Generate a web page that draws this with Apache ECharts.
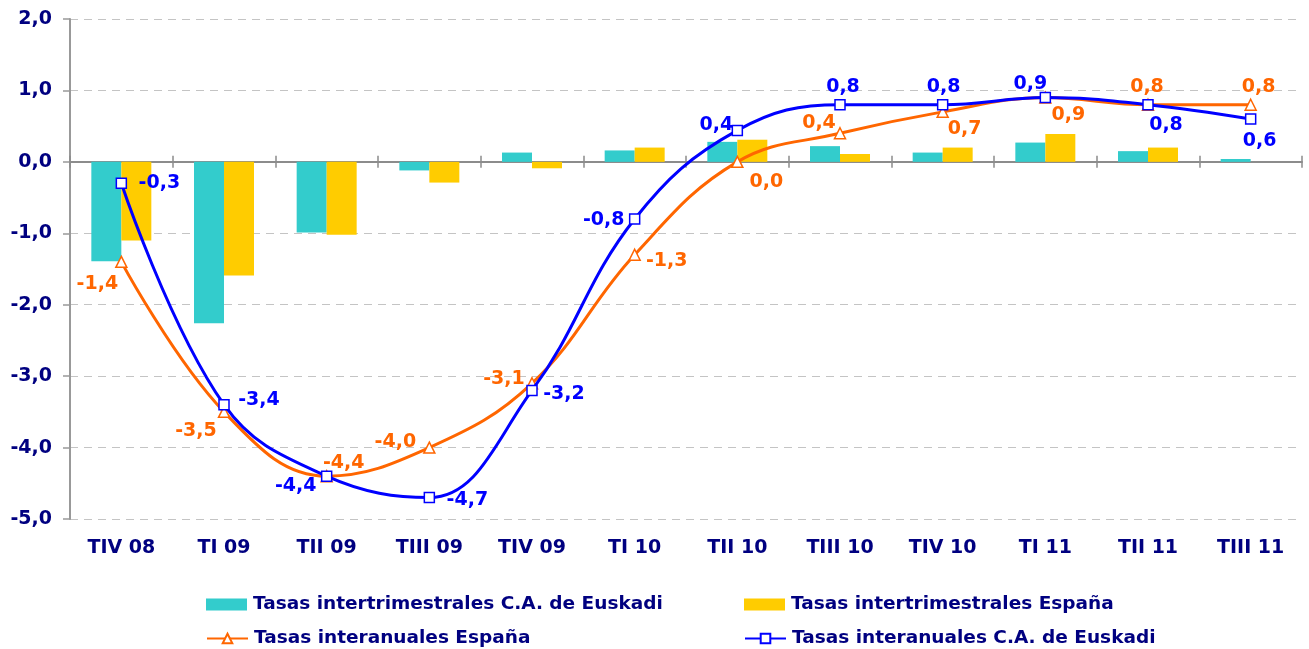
<!DOCTYPE html>
<html>
<head>
<meta charset="utf-8">
<script src="https://cdn.jsdelivr.net/npm/echarts@6/dist/echarts.min.js"></script>
<style>
  html, body { margin: 0; padding: 0; background: #fff; }
  #chart { width: 1309px; height: 649px; }
</style>
</head>
<body>
<div id="chart"></div>
<script>
// trimestres
const trimestres = ['TIV 08', 'TI 09', 'TII 09', 'TIII 09', 'TIV 09', 'TI 10', 'TII 10', 'TIII 10', 'TIV 10', 'TI 11', 'TII 11', 'TIII 11'];

// tasas intertrimestrales (barras)
const interTrimEuskadi = [-1.39, -2.26, -0.99, -0.12, 0.13, 0.16, 0.28, 0.22, 0.13, 0.27, 0.15, 0.04];
const interTrimEspana = [-1.1, -1.59, -1.02, -0.29, -0.09, 0.2, 0.31, 0.11, 0.2, 0.39, 0.2, null];

// tasas interanuales (lineas)
const interAnualEspana = [-1.4, -3.5, -4.4, -4.0, -3.1, -1.3, 0.0, 0.4, 0.7, 0.9, 0.8, 0.8];
const interAnualEuskadi = [-0.3, -3.4, -4.4, -4.7, -3.2, -0.8, 0.44, 0.8, 0.8, 0.9, 0.8, 0.6];

// eje Y
const yMin = -5, yMax = 2, yPaso = 1;

// desplazamiento de las etiquetas respecto al punto (solo estilo)
const offEspana = [[-24, 22], [-28, 19], [17, -13], [-34, -6], [-28, -4], [32, 6], [29, 20], [-21, -10], [22, 17], [23, 17], [-1, -18], [8, -18]];
const offEuskadi = [[38, 0], [35, -5], [-31, 10], [38, 2], [32, 4], [-31, 1], [-21, -5], [3, -18], [1, -18], [-15, -14], [18, 20], [9, 22]];

const NAVY = '#000080';
const FONT = 'DejaVu Sans';
const coma = v => v.toFixed(1).replace('.', ',');

const nombres = [
  'Tasas intertrimestrales C.A. de Euskadi',
  'Tasas intertrimestrales España',
  'Tasas interanuales España',
  'Tasas interanuales C.A. de Euskadi'
];

function puntos(valores, offsets) {
  return valores.map((v, i) => ({ value: v, label: { offset: offsets[i] } }));
}

function leyenda(nombre, left, top, icon, h) {
  const l = {
    data: [nombre],
    left: left,
    top: top,
    itemWidth: 41,
    itemHeight: h,
    itemGap: 0,
    padding: 0,
    selectedMode: false,
    textStyle: { color: NAVY, fontFamily: FONT, fontWeight: 'bold', fontSize: 18.5, padding: [0, 0, 0, 1] }
  };
  if (icon) l.icon = icon;
  return l;
}

const chart = echarts.init(document.getElementById('chart'));

const ejeCat = {
  type: 'category',
  data: trimestres,
  axisLabel: { show: false },
  splitLine: { show: false }
};

const option = {
  animation: false,
  textStyle: { fontFamily: FONT },
  grid: { left: 70, right: 7, top: 19, bottom: 130, containLabel: false },
  legend: [
    leyenda(nombres[0], 206, 595, 'rect', 12),
    leyenda(nombres[1], 744, 595, 'rect', 12),
    leyenda(nombres[2], 206, 629, null, 12),
    leyenda(nombres[3], 744, 629, null, 12)
  ],
  xAxis: [
    {
      type: 'category',
      data: trimestres,
      position: 'bottom',
      axisLine: { show: false, onZero: false },
      axisTick: { show: false },
      axisLabel: { color: NAVY, fontFamily: FONT, fontWeight: 'bold', fontSize: 19, margin: 20 }
    },
    Object.assign({}, ejeCat, {
      position: 'top',
      axisLine: { show: true, onZero: true, onZeroAxisIndex: 0, lineStyle: { color: '#8c8c8c', width: 2 } },
      axisTick: { show: true, length: 6, lineStyle: { color: '#8c8c8c', width: 1.5 } }
    }),
    Object.assign({}, ejeCat, {
      position: 'bottom',
      axisLine: { show: false, onZero: true, onZeroAxisIndex: 0 },
      axisTick: { show: true, length: 6, lineStyle: { color: '#8c8c8c', width: 1.5 } }
    })
  ],
  yAxis: {
    type: 'value',
    min: yMin,
    max: yMax,
    interval: yPaso,
    axisLine: { show: true, lineStyle: { color: '#999', width: 2 } },
    axisTick: { show: true, length: 7, lineStyle: { color: '#999', width: 1.5 } },
    axisLabel: { color: NAVY, fontFamily: FONT, fontWeight: 'bold', fontSize: 19, margin: 18, formatter: coma },
    splitLine: { show: true, lineStyle: { color: '#c4c4c4', type: [8, 6], width: 1 } }
  },
  series: [
    {
      name: nombres[0],
      type: 'bar',
      data: interTrimEuskadi,
      barWidth: 30,
      barGap: '0%',
      itemStyle: { color: '#33CCCC' }
    },
    {
      name: nombres[1],
      type: 'bar',
      data: interTrimEspana,
      barWidth: 30,
      barGap: '0%',
      itemStyle: { color: '#FFCC00' }
    },
    {
      name: nombres[2],
      type: 'line',
      data: puntos(interAnualEspana, offEspana),
      smooth: 0.4,
      symbol: 'triangle',
      symbolSize: 11,
      lineStyle: { color: '#FF6600', width: 3 },
      itemStyle: { color: '#fff', borderColor: '#FF6600', borderWidth: 1.5 },
      label: {
        show: true, position: 'inside', color: '#FF6600',
        fontFamily: FONT, fontWeight: 'bold', fontSize: 19,
        formatter: p => coma(p.value)
      },
      z: 3
    },
    {
      name: nombres[3],
      type: 'line',
      data: puntos(interAnualEuskadi, offEuskadi),
      smooth: 0.4,
      symbol: 'rect',
      symbolSize: 10,
      lineStyle: { color: '#0000FF', width: 3 },
      itemStyle: { color: '#fff', borderColor: '#0000FF', borderWidth: 1.5 },
      label: {
        show: true, position: 'inside', color: '#0000FF',
        fontFamily: FONT, fontWeight: 'bold', fontSize: 19,
        formatter: p => coma(p.value)
      },
      z: 4
    }
  ]
};

chart.setOption(option);
</script>
</body>
</html>
